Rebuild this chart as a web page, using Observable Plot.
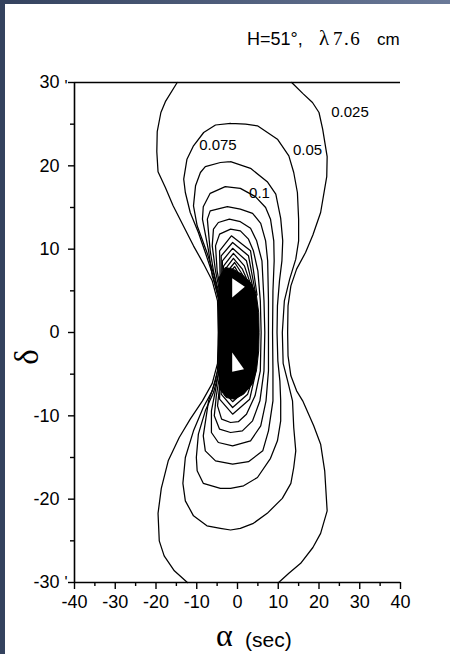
<!DOCTYPE html>
<html>
<head>
<meta charset="utf-8">
<script src="https://cdn.jsdelivr.net/npm/d3@7"></script>
<script src="https://cdn.jsdelivr.net/npm/@observablehq/plot@0.6"></script>
<style>
  html, body { margin: 0; padding: 0; background: #fff; }
  #page { position: relative; width: 450px; height: 654px; overflow: hidden; background: #fff; }
  #chart { position: absolute; left: 0; top: 0; }
  #overlay { position: absolute; left: 0; top: 0; }
  #leftbar { position: absolute; left: 0; top: 0; width: 5px; height: 654px; background: #34425e; }
  #topbar { position: absolute; left: 0; top: 0; width: 450px; height: 4px; background: linear-gradient(to right, #34425e, #6a7998); }
</style>
</head>
<body>
<div id="page">
  <div id="chart"></div>
  <svg id="overlay" width="450" height="654">
    <text x="247" y="45" font-family="'Liberation Sans', Arial, sans-serif" font-size="18">H=51°,</text>
    <text x="319" y="45" font-family="'Liberation Serif', 'Times New Roman', serif" font-size="21">λ</text>
    <text x="333" y="45" font-family="'Liberation Serif', 'Times New Roman', serif" font-size="19" letter-spacing="1.5">7.6</text>
    <text x="377" y="45" font-family="'Liberation Sans', Arial, sans-serif" font-size="17">cm</text>
    <text transform="translate(38,357) rotate(-90)" text-anchor="middle" font-family="'Liberation Serif', 'Times New Roman', serif" font-size="33">δ</text>
    <text x="216" y="646" font-family="'Liberation Serif', 'Times New Roman', serif" font-size="32">α</text>
    <text x="245" y="647" font-family="'Liberation Sans', Arial, sans-serif" font-size="21">(sec)</text>
  </svg>
  <div id="leftbar"></div>
  <div id="topbar"></div>
</div>
<script>
// ---- axis ticks ----
const xMajorTicks = [-40, -30, -20, -10, 0, 10, 20, 30, 40];
const xMinorTicks = [-35, -25, -15, -5, 5, 15, 25, 35];
const yMajorTicks = [-30, -20, -10, 0, 10, 20, 30];
const yMinorTicks = [-25, -15, -5, 5, 15, 25];
const yPrimeTop = [30];
const yPrimeBottom = [-30];

// ---- contour labels ----
const labelTexts = ["0.025", "0.05", "0.075", "0.1"];
const labelAlpha = [27.6, 17.2, -4.8, 5.4];
const labelDelta = [26.4, 21.9, 22.5, 16.7];

// ---- contour lines, [alpha (sec), delta (arcmin)] ----
const c1Left = [[-14.8,30.0],[-17.7,27.7],[-18.8,26.4],[-19.7,24.1],[-19.8,21.7],[-19.5,19.3],[-17.7,17.4],[-15.8,15.2],[-13.3,12.8],[-10.8,10.4],[-8.4,8.3],[-6.2,6.2],[-4.9,3.8],[-4.7,0],[-4.9,-3.7],[-6.2,-6.1],[-8.6,-8.2],[-11.6,-10.4],[-14.3,-12.6],[-17.0,-15.4],[-18.7,-18.7],[-19.5,-21.7],[-19.2,-25.0],[-18.0,-26.8],[-15.5,-28.6],[-12.3,-30.0]];
const c1Right = [[13.3,30.0],[16.0,28.7],[18.4,27.6],[20.0,26.4],[20.9,24.4],[22.0,21.1],[21.9,18.7],[20.4,14.4],[18.5,11.7],[16.7,9.6],[14.5,7.6],[13.1,5.6],[12.4,3.2],[12.3,0],[12.4,-2.8],[13.1,-5.2],[14.5,-7.0],[16.0,-8.2],[18.7,-11.2],[20.4,-13.4],[21.4,-16.6],[22.0,-21.4],[20.4,-24.1],[18.5,-25.8],[15.5,-27.7],[12.6,-28.9],[10.1,-30.0]];
const c2 = [[-1.7,25.1],[2.0,25.0],[4.9,24.8],[9.8,23.2],[12.6,21.2],[13.8,19.2],[14.7,16.8],[15.0,13.6],[15.0,11.0],[14.3,8.8],[12.8,6.4],[11.5,3.8],[11.0,0],[11.2,-3.7],[12.3,-5.8],[13.5,-8.2],[13.8,-11.4],[14.3,-14.2],[13.8,-16.2],[13.1,-18.1],[11.0,-19.9],[7.3,-21.7],[3.9,-22.9],[0.7,-23.5],[-1.7,-23.7],[-4.2,-23.5],[-7.5,-23.2],[-10.8,-22.0],[-12.8,-20.2],[-13.4,-18.1],[-12.8,-15.0],[-10.8,-11.8],[-8.4,-9.0],[-6.2,-7.0],[-4.9,-4.6],[-4.5,0],[-4.6,3.8],[-6.0,6.8],[-7.9,9.6],[-9.6,12.0],[-11.6,14.4],[-12.8,16.8],[-13.2,18.4],[-12.4,20.8],[-10.8,22.4],[-8.3,24.0],[-5.4,24.9],[-1.7,25.1]];
const c3 = [[-1.7,20.5],[3.2,19.7],[7.3,18.1],[9.4,16.6],[10.6,13.7],[11.1,11.0],[10.9,8.6],[10.3,6.2],[9.8,3.2],[9.7,0],[9.9,-3.4],[10.4,-5.8],[10.6,-8.2],[10.6,-10.6],[9.8,-13.0],[8.1,-15.1],[4.9,-17.4],[1.5,-18.4],[-1.7,-18.7],[-4.2,-18.7],[-8.4,-18.1],[-9.9,-16.6],[-10.1,-15.0],[-9.6,-12.2],[-7.9,-9.4],[-5.9,-7.2],[-4.6,-4.9],[-4.3,0],[-4.4,3.8],[-5.7,6.8],[-7.5,9.6],[-9.9,12.8],[-10.8,15.2],[-10.3,17.6],[-9.1,19.2],[-7.9,19.9],[-4.2,20.4],[-1.7,20.5]];
const c4 = [[-3.0,17.5],[0.7,17.3],[4.4,16.3],[6.9,15.0],[8.1,13.6],[8.9,11.0],[9.0,8.6],[8.7,5.0],[8.6,0],[8.7,-4.6],[8.7,-8.2],[7.6,-11.8],[6.2,-14.2],[2.7,-15.5],[-1.2,-15.8],[-5.4,-15.4],[-7.9,-14.2],[-8.4,-12.4],[-7.1,-8.2],[-5.4,-5.8],[-4.4,-3.4],[-4.1,0],[-4.3,3.8],[-6.2,6.8],[-7.1,9.8],[-8.6,13.6],[-8.4,15.1],[-6.7,16.7],[-3.0,17.5]];
const c5 = [[-2.5,15.1],[0.7,14.8],[3.7,14.3],[5.7,13.1],[6.9,11.0],[7.4,8.6],[7.6,3.8],[7.6,0],[7.6,-4.6],[7.0,-8.2],[5.7,-11.2],[3.2,-13.0],[-1.2,-13.6],[-4.7,-13.2],[-6.4,-12.0],[-6.4,-9.4],[-5.2,-6.4],[-4.2,-3.4],[-3.9,0],[-4.1,3.8],[-5.9,7.4],[-6.7,9.8],[-7.4,13.6],[-6.7,14.6],[-2.5,15.1]];
const c6 = [[-2.0,13.6],[0.7,13.3],[3.2,12.5],[4.7,11.0],[6.0,8.6],[6.5,3.8],[6.7,0],[6.5,-4.6],[5.5,-8.2],[3.7,-10.6],[1.2,-11.8],[-1.7,-12.0],[-4.4,-11.6],[-5.7,-10.0],[-5.2,-7.6],[-4.0,-4.0],[-3.8,0],[-3.9,3.8],[-5.4,7.4],[-6.2,10.4],[-5.9,12.4],[-4.7,13.2],[-2.0,13.6]];
const c7 = [[-1.7,12.4],[0.7,12.2],[2.7,11.2],[3.9,9.8],[5.0,7.4],[5.6,3.8],[5.8,0],[5.6,-4.6],[4.3,-7.6],[2.2,-9.8],[0.2,-10.7],[-1.7,-10.8],[-3.9,-10.4],[-4.9,-8.8],[-4.4,-6.4],[-3.8,-4.0],[-3.6,0],[-3.7,3.8],[-5.0,7.4],[-5.4,10.4],[-4.4,11.8],[-1.7,12.4]];
const c8Up = [[-4.2,5.0],[-4.4,9.8],[-1.5,11.6],[3.2,9.8],[4.8,4.5]];
const c9Up = [[-4.0,5.2],[-4.0,9.2],[-1.2,10.8],[2.7,9.2],[4.4,4.8]];
const c10Up = [[-3.8,5.4],[-3.7,8.6],[-1.2,10.1],[2.2,8.6],[4.0,5.0]];
const c11Up = [[-3.6,5.6],[-3.4,8.0],[-1.0,9.5],[1.7,8.0],[3.6,5.2]];
const c12Up = [[-3.4,5.8],[-3.0,7.6],[-1.0,8.9],[1.2,7.6],[3.2,5.4]];
const c13Up = [[-3.2,6.0],[-2.7,7.2],[-0.7,8.4],[0.9,7.2],[2.8,5.6]];
const c14Up = [[-3.0,6.2],[-2.4,6.9],[-0.7,7.9],[0.5,6.9],[2.4,5.8]];
const c8Down = [[-4.2,-5.0],[-4.4,-8.0],[-1.2,-9.8],[3.0,-8.0],[4.6,-4.5]];
const c9Down = [[-4.0,-5.2],[-4.0,-7.4],[-1.2,-9.0],[2.5,-7.4],[4.2,-4.8]];
const c10Down = [[-3.8,-5.4],[-3.7,-6.9],[-1.2,-8.3],[2.0,-6.9],[3.8,-5.0]];
const c11Down = [[-3.6,-5.5],[-3.4,-6.5],[-1.0,-7.7],[1.6,-6.5],[3.4,-5.2]];
const c12Down = [[-3.4,-5.6],[-3.0,-6.2],[-1.0,-7.1],[1.2,-6.2],[3.0,-5.3]];
// region where the innermost contours merge into solid black
const denseCore = [[-4.5,6.6],[-3.0,7.8],[-1.0,7.6],[1.0,7.0],[3.2,6.0],[4.6,4.6],[5.2,2.4],[5.3,0],[5.2,-2.2],[4.7,-4.4],[3.6,-6.2],[1.5,-7.4],[-0.8,-8.0],[-2.8,-7.8],[-4.3,-6.8],[-4.6,-4.0],[-4.7,-1.0],[-4.7,2.0],[-4.6,4.6],[-4.5,6.6]];
const coreGapUpper = [[-1.3,6.5],[1.8,5.5],[-1.3,4.2],[-1.3,6.5]];
const coreGapLower = [[-1.3,-2.4],[1.6,-4.4],[-1.3,-4.7],[-1.3,-2.4]];

const contourList = [
  ["c1Left", c1Left], ["c1Right", c1Right], ["c2", c2], ["c3", c3], ["c4", c4],
  ["c5", c5], ["c6", c6], ["c7", c7],
  ["c8Up", c8Up], ["c9Up", c9Up], ["c10Up", c10Up], ["c11Up", c11Up], ["c12Up", c12Up], ["c13Up", c13Up], ["c14Up", c14Up],
  ["c8Down", c8Down], ["c9Down", c9Down], ["c10Down", c10Down], ["c11Down", c11Down], ["c12Down", c12Down]
];
const rows = [];
for (const [id, pts] of contourList) for (const [a, d] of pts) rows.push({id, a, d});
const labelRows = labelTexts.map((t, i) => ({t, a: labelAlpha[i], d: labelDelta[i]}));

const font = "'Liberation Sans', Arial, Helvetica, sans-serif";

const plot = Plot.plot({
  width: 450,
  height: 620,
  marginLeft: 74,
  marginRight: 50,
  marginTop: 82,
  marginBottom: 38,
  style: {background: "transparent", fontFamily: font, color: "black"},
  x: {domain: [-40, 40]},
  y: {domain: [-30, 30]},
  marks: [
    Plot.line(rows, {x: "a", y: "d", z: "id", stroke: "black", strokeWidth: 1.25, curve: "linear"}),
    Plot.line(denseCore, {x: d => d[0], y: d => d[1], fill: "black", stroke: "black", strokeWidth: 1}),
    Plot.line(coreGapUpper, {x: d => d[0], y: d => d[1], fill: "white", stroke: "none"}),
    Plot.line(coreGapLower, {x: d => d[0], y: d => d[1], fill: "white", stroke: "none"}),
    Plot.text(labelRows, {x: "a", y: "d", text: "t", fontSize: 15, fontFamily: font, fill: "black"}),
    Plot.ruleX([-40], {stroke: "black", strokeWidth: 1.6}),
    Plot.ruleY([-30], {stroke: "black", strokeWidth: 1.6}),
    Plot.ruleY([30], {stroke: "black", strokeWidth: 1.6}),
    Plot.axisX(xMajorTicks, {tickSize: 7, tickPadding: 6, fontSize: 18, tickFormat: d => String(d), label: null, strokeWidth: 1.4}),
    Plot.axisX(xMinorTicks, {tickSize: 4, tickFormat: () => "", label: null, strokeWidth: 1.4}),
    Plot.axisY(yMajorTicks, {tickSize: 6, tickPadding: 9, fontSize: 18, tickFormat: d => String(d), label: null, strokeWidth: 1.4}),
    Plot.axisY(yMinorTicks, {tickSize: 4, tickFormat: () => "", label: null, strokeWidth: 1.4}),
    Plot.text(yPrimeTop, {x: -40, y: d => d, text: () => "'", dx: -10, dy: 4, textAnchor: "start", fontSize: 16, fontFamily: font, fill: "black"}),
    Plot.text(yPrimeBottom, {x: -40, y: d => d, text: () => "'", dx: -10, dy: 0, textAnchor: "start", fontSize: 16, fontFamily: font, fill: "black"})
  ]
});
document.getElementById("chart").appendChild(plot);
</script>
</body>
</html>
